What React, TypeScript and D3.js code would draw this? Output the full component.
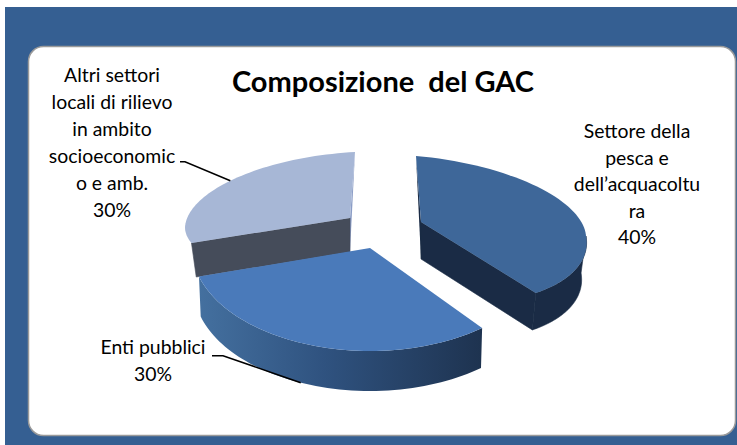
import React from "react";
import * as d3 from "d3";

const W = 737, H = 445;
const titleText = "Composizione  del GAC";
const categories = ["Settore della pesca e dell’acquacoltura", "Enti pubblici", "Altri settori locali di rilievo in ambito socioeconomico e amb."];
const shares = [40, 30, 30];
const labelLines = [
  ["Settore della", "pesca e", "dell’acquacoltu", "ra", "40%"],
  ["Enti pubblici", "30%"],
  ["Altri settori", "locali di rilievo", "in ambito", "socioeconomic", "o e amb.", "30%"],
];
const topColors = ["#3e6799", "#4a7aba", "#a7b7d6"];
const wallColors = ["#1a2b45", "url(#entiWall)", "#454c5a"];
const farWallColors = ["#1a2b45", "#4a7aba", "#8b9dc6"];

// Projection of each exploded slice (3-D look)
const geometry = [
  { ax: 421, ay: 222, a: 165, bBack: 66, bFront: 80, sxBack: 5, sxFront: 14, sy: 14, depth: 37, bs: 0.97 },
  { ax: 370, ay: 248, a: 178, bBack: 66, bFront: 103, sxBack: 0, sxFront: 0, sy: 0, depth: 40, bs: 0.99 },
  { ax: 350, ay: 218, a: 165, bBack: 66, bFront: 59, sxBack: -5, sxFront: 0, sy: 9, depth: 34, bs: 0.97 },
];
const labelBoxes = [
  { x: 637, y: 138, lh: 26.6 },
  { x: 153, y: 354, lh: 27 },
  { x: 112, y: 82, lh: 27 },
];

type G = (typeof geometry)[number];
const warp = (t: number) => t + (3.2 * Math.PI / 180) * Math.sin(2 * t);
const project = (g: G, t: number, bottom = false): [number, number] => {
  const p = warp(t), s = Math.sin(p), c = Math.cos(p);
  const k = bottom ? g.bs : 1;
  const x = g.a * s - (c > 0 ? g.sxBack : g.sxFront) * c;
  const y = -c * (c > 0 ? g.bBack : g.bFront) + g.sy * Math.abs(s);
  return [g.ax + x * k, g.ay + y + (bottom ? g.depth : 0)];
};
const apex = (g: G, bottom = false): [number, number] => [g.ax, g.ay + (bottom ? g.depth : 0)];
const samples = (a: number, b: number) => d3.range(0, 61).map((i) => a + ((b - a) * i) / 60);
const line = d3.line<[number, number]>().x((d) => d[0]).y((d) => d[1]);

const arcs = d3.pie<number>().sort(null).startAngle(0).endAngle(2 * Math.PI)(shares);
const deg = (d: number) => (d * Math.PI) / 180;

export default function App() {
  const order = [2, 1, 0];
  const font = "Lato, sans-serif";
  const leaders: [number, number][][] = [
    [[180, 161.7], [185, 161.7], project(geometry[2], deg(315))],
    [[212, 355.7], [223, 355.7], project(geometry[1], deg(201), true)],
  ];
  return (
    <svg width={W} height={H} style={{ position: "absolute", left: 0, top: 0, background: "#fff" }}>
      <defs>
        <linearGradient id="entiWall" gradientUnits="userSpaceOnUse" x1={199} x2={481} y1={0} y2={0}>
          <stop offset="0" stopColor="#44709f" />
          <stop offset="0.45" stopColor="#2f527f" />
          <stop offset="1" stopColor="#1e3350" />
        </linearGradient>
      </defs>
      <rect x={5} y={7} width={W - 5} height={H - 7} fill="#355f92" />
      <rect x={28.5} y={46.5} width={707} height={389} rx={15} fill="#fff" stroke="#9a9a9a" strokeWidth={1.5} />
      <text x={383} y={92} textAnchor="middle" fontFamily={font} fontWeight={700} fontSize={29} fill="#000" style={{ whiteSpace: "pre" }}>
        {titleText}
      </text>
      {order.map((i) => {
        const g = geometry[i], arc = arcs[i];
        const s = arc.startAngle, e = arc.endAngle;
        const hasOuter = i !== 2;
        const vis = samples(Math.max(s, deg(90)), Math.min(e, deg(270)));
        const outer = [...vis.map((t) => project(g, t)), ...vis.slice().reverse().map((t) => project(g, t, true))];
        const topFace = [apex(g), ...samples(s, e).map((t) => project(g, t))];
        const nearRadial = i === 0
          ? [apex(g), project(g, e), project(g, e, true), apex(g, true)]
          : i === 2
            ? [apex(g), project(g, s), project(g, s, true), apex(g, true)]
            : [];
        const sliver = i === 0
          ? [project(g, s), apex(g), apex(g, true)]
          : i === 2
            ? [project(g, e), apex(g), apex(g, true)]
            : [];
        return (
          <g key={categories[i]}>
            {sliver.length > 0 && <path d={line(sliver) + "Z"} fill={farWallColors[i]} />}
            {hasOuter && <path d={line(outer) + "Z"} fill={wallColors[i]} stroke={i === 0 ? wallColors[i] : "none"} strokeWidth={0.6} />}
            {nearRadial.length > 0 && <path d={line(nearRadial) + "Z"} fill={wallColors[i]} stroke={wallColors[i]} strokeWidth={0.6} />}
            <path d={line(topFace) + "Z"} fill={topColors[i]} />
          </g>
        );
      })}
      {leaders.map((l, i) => (
        <path key={i} d={line(l) ?? ""} fill="none" stroke="#000" strokeWidth={1.5} />
      ))}
      {labelLines.map((lines, i) => (
        <text key={i} textAnchor="middle" fontFamily={font} fontSize={19.4} fill="#000">
          {lines.map((t, j) => (
            <tspan key={j} x={labelBoxes[i].x} y={labelBoxes[i].y + j * labelBoxes[i].lh}>{t}</tspan>
          ))}
        </text>
      ))}
    </svg>
  );
}
